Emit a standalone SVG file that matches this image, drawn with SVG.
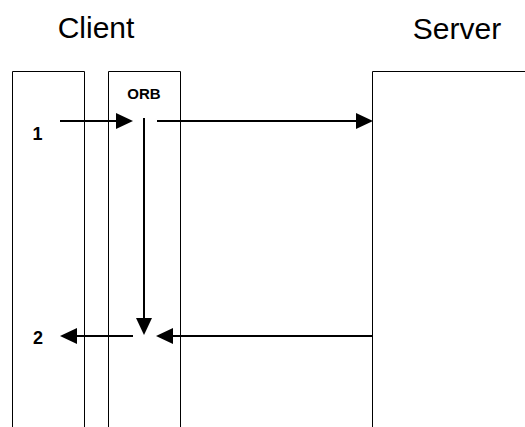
<svg xmlns="http://www.w3.org/2000/svg" width="525" height="427" viewBox="0 0 525 427">
  <style>
    .lane { fill: none; stroke: #000; stroke-width: 1; }
    .arrow { fill: none; stroke: #000; stroke-width: 2; marker-end: url(#head); }
    .title { font-family: "Liberation Sans", Arial, sans-serif; font-size: 30px; fill: #000; }
    .label { font-family: "Liberation Sans", Arial, sans-serif; font-weight: bold; fill: #000; }
  </style>
  <defs>
    <marker id="head" markerUnits="userSpaceOnUse" markerWidth="17" markerHeight="16" viewBox="0 0 17 16" refX="8" refY="8" orient="auto">
      <path d="M0,0 L17,8 L0,16 Z" fill="#000"/>
    </marker>
  </defs>
  <rect width="525" height="427" fill="#fff"/>

  <text class="title" x="96" y="38" text-anchor="middle">Client</text>
  <text class="title" x="457" y="39" text-anchor="middle">Server</text>

  <g id="client-app">
    <path class="lane" d="M12.5,427 V71.5 H84.5 V427"/>
    <text class="label" x="37.5" y="140" font-size="18" text-anchor="middle">1</text>
    <text class="label" x="38" y="344" font-size="18" text-anchor="middle">2</text>
  </g>

  <g id="orb">
    <path class="lane" d="M108.5,427 V71.5 H180.5 V427"/>
    <text class="label" x="144" y="99" font-size="15" text-anchor="middle">ORB</text>
  </g>

  <g id="server">
    <path class="lane" d="M372.5,427 V71.5 H525"/>
  </g>

  <g id="connectors">
    <line class="arrow" x1="60" y1="121" x2="124" y2="121"/>
    <line class="arrow" x1="157" y1="121" x2="364" y2="121"/>
    <line class="arrow" x1="144" y1="118" x2="144" y2="326"/>
    <line class="arrow" x1="372" y1="336" x2="165" y2="336"/>
    <line class="arrow" x1="133" y1="336" x2="69" y2="336"/>
  </g>
</svg>
